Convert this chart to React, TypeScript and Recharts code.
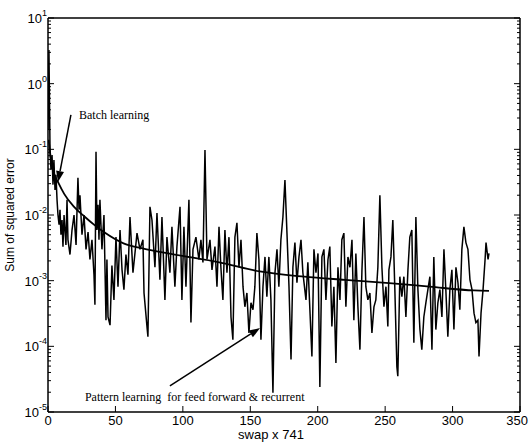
import { Line, LineChart, ReferenceDot, ReferenceLine, XAxis, YAxis } from "recharts";

// noisy curve: pattern learning (feed forward & recurrent)
const patternX = [
  0.0, 0.7, 1.5, 2.2, 3.0, 3.7, 4.4, 5.2, 5.9, 6.7, 7.4, 8.2, 8.9, 9.6, 10.4, 11.1, 11.9, 13.3, 14.1, 14.8,
  16.3, 17.8, 19.3, 20.8, 22.2, 23.0, 23.7, 25.2, 26.7, 28.2, 29.7, 31.1, 32.6, 34.1, 34.8, 35.6, 36.3, 37.1, 37.8, 38.5,
  40.0, 41.5, 43.0, 43.7, 44.5, 46.0, 47.4, 48.9, 50.4, 51.9, 53.4, 54.9, 56.3, 57.8, 59.3, 60.8, 63.0, 66.0, 68.2, 70.4,
  71.2, 73.4, 74.1, 75.6, 77.1, 79.3, 80.8, 83.0, 84.5, 86.7, 88.2, 90.4, 91.9, 94.1, 95.6, 97.9, 99.3, 100.8, 102.3, 104.5,
  106.0, 107.5, 109.7, 111.9, 113.4, 114.9, 116.4, 117.9, 120.1, 121.6, 123.8, 125.3, 126.8, 128.2, 129.7, 131.2, 132.7, 134.2, 135.7, 137.1,
  138.6, 140.1, 141.6, 143.1, 144.6, 146.0, 147.5, 149.0, 150.5, 152.0, 153.4, 154.9, 156.4, 157.9, 159.4, 160.9, 162.3, 163.8, 165.3, 166.8,
  168.3, 169.8, 171.2, 172.7, 174.2, 175.7, 177.2, 178.7, 180.2, 181.6, 183.1, 184.6, 186.1, 187.6, 189.0, 191.3, 192.7, 194.2, 195.7, 197.2,
  198.7, 200.2, 201.6, 203.1, 204.6, 206.1, 207.6, 209.0, 210.5, 212.0, 213.5, 215.0, 216.5, 217.9, 219.4, 220.9, 222.4, 223.9, 225.4, 226.8,
  228.3, 229.8, 231.3, 232.8, 234.3, 235.7, 237.2, 238.7, 240.2, 241.7, 243.1, 244.6, 246.1, 247.6, 249.1, 250.6, 252.0, 252.8, 254.3, 255.7,
  257.2, 258.7, 259.4, 260.9, 262.4, 263.9, 265.4, 266.9, 268.3, 269.8, 271.3, 272.8, 274.3, 275.8, 277.2, 278.7, 280.2, 281.7, 283.2, 284.7,
  286.1, 287.6, 289.1, 290.6, 292.1, 293.6, 295.0, 296.5, 298.0, 299.5, 301.0, 302.5, 304.0, 305.4, 306.9, 308.4, 309.9, 311.4, 312.9, 314.4,
  315.9, 317.3, 318.8, 319.6, 321.1, 322.6, 324.1, 324.8, 326.3, 327.0,
];
const patternErr = [
  0.198, 3.26, 0.098, 0.049, 0.082, 0.029, 0.069, 0.024, 0.041, 0.017, 0.01, 0.0071, 0.012, 0.005, 0.0084, 0.0033, 0.01, 0.0035, 0.017, 0.0042,
  0.0025, 0.0059, 0.01, 0.0035, 0.037, 0.012, 0.02, 0.005, 0.01, 0.003, 0.0055, 0.0021, 0.0042, 0.00123, 0.00043, 0.092, 0.0059, 0.0143, 0.0042, 0.017,
  0.003, 0.01, 0.00025, 0.0021, 0.00028, 0.00021, 0.0017, 0.00051, 0.0046, 0.00081, 0.0059, 0.00146, 0.00073, 0.0025, 0.00123, 0.0093, 0.00132, 0.0053, 0.003, 0.0042,
  0.00065, 0.0002, 0.00014, 0.0133, 0.0084, 0.0016, 0.0107, 0.00103, 0.0093, 0.00051, 0.0046, 0.00132, 0.0066, 0.00081, 0.0033, 0.0133, 0.00051, 0.0066, 0.00081, 0.017,
  0.00023, 0.003, 0.0046, 0.0021, 0.0042, 0.0019, 0.098, 0.0021, 0.0042, 0.00146, 0.0033, 0.00081, 0.0066, 0.0016, 0.00051, 0.0059, 0.00132, 0.0046, 0.00028, 0.000126,
  0.0046, 0.0076, 0.0016, 0.0042, 0.00081, 0.0004, 0.00065, 0.00016, 0.00046, 0.00036, 0.00081, 0.0053, 0.0021, 0.000126, 0.00081, 0.0023, 0.00057, 0.0023, 0.00051, 0.0000196,
  0.00132, 0.003, 0.00081, 0.0042, 0.0093, 0.034, 0.0053, 0.00081, 0.000063, 0.0016, 0.0038, 0.00093, 0.0023, 0.0042, 0.00132, 0.00051, 0.0019, 0.00036, 0.00007, 0.003,
  0.00132, 0.0026, 0.000024, 0.0023, 0.003, 0.00051, 0.0021, 0.0033, 0.0002, 0.00081, 0.000056, 0.0016, 0.00051, 0.0042, 0.0053, 0.0004, 0.0023, 0.0016, 0.0042, 0.00025,
  0.0026, 0.0004, 0.000089, 0.00146, 0.0093, 0.00081, 0.00051, 0.00065, 0.00016, 0.0004, 0.00051, 0.0016, 0.02, 0.0016, 0.0004, 0.00081, 0.0002, 0.00146, 0.0023, 0.0084,
  0.00073, 0.000049, 0.000035, 0.00115, 0.00057, 0.00115, 0.00028, 0.00146, 0.0046, 0.0059, 0.000113, 0.0093, 0.00073, 0.00018, 0.000089, 0.00028, 0.00046, 0.00073, 0.00115, 0.000089,
  0.0023, 0.00018, 0.00046, 0.00073, 0.00028, 0.003, 0.00073, 0.00014, 0.00073, 0.00146, 0.00018, 0.0016, 0.00093, 0.00036, 0.003, 0.0066, 0.0038, 0.003, 0.00103, 0.00073,
  0.00032, 0.00023, 0.00025, 0.00007, 0.00032, 0.00073, 0.0021, 0.0038, 0.0021, 0.0026,
];

// smooth curve: batch learning
const batchX = [0.5, 2, 4, 8, 12, 19, 27, 35, 42, 56, 70, 94, 127, 157, 190, 220, 253, 283, 316, 327];
const batchErr = [
  0.14, 0.075, 0.046, 0.03, 0.021, 0.0135, 0.0095, 0.0069, 0.0054, 0.0037, 0.0031, 0.0025, 0.0019, 0.00138, 0.00115,
  0.00103, 0.00092, 0.00081, 0.00071, 0.0007,
];

const xTicks = [0, 50, 100, 150, 200, 250, 300, 350];
const decades = [1e-5, 1e-4, 1e-3, 1e-2, 1e-1, 1, 10];

const logTicks: number[] = [];
decades.forEach((d, i) => {
  if (i === decades.length - 1) {
    logTicks.push(d);
    return;
  }
  for (let m = 1; m < 10; m++) logTicks.push(d * m);
});

const patternData = patternX.map((x, i) => ({ x, err: patternErr[i] }));
const batchData = batchX.map((x, i) => ({ x, err: batchErr[i] }));

const numFont = '"Liberation Sans", Arial, sans-serif';
const textFont = '"Liberation Serif", "Times New Roman", serif';

const isMajor = (v: number) => {
  const l = Math.log10(v);
  return Math.abs(l - Math.round(l)) < 1e-6;
};

const LeftTick = ({ x, y, payload }: any) => {
  const v = payload.value;
  const major = isMajor(v);
  const exp = Math.round(Math.log10(v));
  return (
    <g>
      <line x1={x} y1={y} x2={x + (major ? 6 : 3)} y2={y} stroke="#000" strokeWidth={1} />
      {major && (
        <text x={x - 1} y={y + 5} textAnchor="end" fontFamily={numFont} fontSize={13} fill="#000">
          <tspan>10</tspan>
          <tspan dy={-7} fontSize={9}>{exp}</tspan>
        </text>
      )}
    </g>
  );
};

const RightTick = ({ x, y, payload }: any) => {
  const major = isMajor(payload.value);
  return <line x1={x} y1={y} x2={x - (major ? 6 : 3)} y2={y} stroke="#000" strokeWidth={1} />;
};

const BottomTick = ({ x, y, payload }: any) => {
  const last = payload.value === xTicks[xTicks.length - 1];
  return (
    <g>
      <line x1={x} y1={y} x2={x} y2={y - 6} stroke="#000" strokeWidth={1} />
      <text
        x={last ? x + 8 : x}
        y={y + 13}
        textAnchor={last ? "end" : "middle"}
        fontFamily={numFont}
        fontSize={13}
        fill="#000"
      >
        {payload.value}
      </text>
    </g>
  );
};

const TopTick = ({ x, y }: any) => <line x1={x} y1={y} x2={x} y2={y + 6} stroke="#000" strokeWidth={1} />;

const Arrow = ({ x1, y1, x2, y2 }: any) => {
  const a = Math.atan2(y2 - y1, x2 - x1);
  const len = 11;
  const w = 4;
  const bx = x2 - len * Math.cos(a);
  const by = y2 - len * Math.sin(a);
  const px = -Math.sin(a) * w;
  const py = Math.cos(a) * w;
  return (
    <g>
      <line x1={x1} y1={y1} x2={bx} y2={by} stroke="#000" strokeWidth={1.5} />
      <polygon points={`${x2},${y2} ${bx + px},${by + py} ${bx - px},${by - py}`} fill="#000" />
    </g>
  );
};

const note = (txt: string) => ({ cx, cy }: any) => (
  <text x={cx} y={cy} fontFamily={textFont} fontSize={12} fill="#000" style={{ whiteSpace: "pre" }}>
    {txt}
  </text>
);

export default function App() {
  return (
    <div style={{ position: "absolute", left: 0, top: 0, width: 529, height: 444, background: "#fff" }}>
      <LineChart width={529} height={444} margin={{ top: 10, right: 0, bottom: 0, left: 8 }}>
        <XAxis
          xAxisId="x"
          dataKey="x"
          type="number"
          domain={[0, 350]}
          ticks={xTicks}
          interval={0}
          allowDataOverflow
          height={32}
          tickSize={0}
          tickMargin={0}
          tickLine={false}
          tick={<BottomTick />}
          axisLine={{ stroke: "#000", strokeWidth: 1.5 }}
          label={({ viewBox }: any) => (
            <text
              x={viewBox.x + viewBox.width / 2 - 13}
              y={viewBox.y + 27}
              textAnchor="middle"
              fontFamily={numFont}
              fontSize={13}
              fill="#000"
            >
              swap x 741
            </text>
          )}
        />
        <XAxis
          xAxisId="top"
          orientation="top"
          type="number"
          domain={[0, 350]}
          ticks={xTicks}
          interval={0}
          allowDataOverflow
          height={8}
          tickSize={0}
          tickMargin={0}
          tickLine={false}
          tick={<TopTick />}
          axisLine={{ stroke: "#000", strokeWidth: 1.5 }}
        />
        <YAxis
          yAxisId="y"
          scale="log"
          type="number"
          domain={[1e-5, 10]}
          ticks={logTicks}
          interval={0}
          allowDataOverflow
          width={40}
          tickSize={0}
          tickMargin={0}
          tickLine={false}
          tick={<LeftTick />}
          axisLine={{ stroke: "#000", strokeWidth: 1.5 }}
          label={({ viewBox }: any) => {
            const lx = viewBox.x + 2;
            const ly = viewBox.y + viewBox.height / 2;
            return (
              <text
                x={lx}
                y={ly}
                transform={`rotate(-90 ${lx} ${ly})`}
                textAnchor="middle"
                dominantBaseline="central"
                fontFamily={numFont}
                fontSize={12}
                fill="#000"
              >
                Sum of squared error
              </text>
            );
          }}
        />
        <YAxis
          yAxisId="right"
          orientation="right"
          scale="log"
          type="number"
          domain={[1e-5, 10]}
          ticks={logTicks}
          interval={0}
          allowDataOverflow
          width={9}
          tickSize={0}
          tickMargin={0}
          tickLine={false}
          tick={<RightTick />}
          axisLine={{ stroke: "#000", strokeWidth: 1.5 }}
        />
        <Line
          xAxisId="x"
          yAxisId="y"
          data={patternData}
          dataKey="err"
          type="linear"
          stroke="#000"
          strokeWidth={1.5}
          dot={false}
          isAnimationActive={false}
        />
        <Line
          xAxisId="x"
          yAxisId="y"
          data={batchData}
          dataKey="err"
          type="monotone"
          stroke="#000"
          strokeWidth={1.8}
          dot={false}
          isAnimationActive={false}
        />
        <ReferenceLine
          xAxisId="x"
          yAxisId="y"
          segment={[
            { x: 17, y: 0.334 },
            { x: 7.4, y: 0.0318 },
          ]}
          shape={<Arrow />}
        />
        <ReferenceLine
          xAxisId="x"
          yAxisId="y"
          segment={[
            { x: 90.4, y: 0.000025 },
            { x: 157.2, y: 0.00019 },
          ]}
          shape={<Arrow />}
        />
        <ReferenceDot xAxisId="x" yAxisId="y" x={23} y={0.29} r={0} shape={note("Batch learning")} />
        <ReferenceDot
          xAxisId="x"
          yAxisId="y"
          x={27.4}
          y={0.0000145}
          r={0}
          shape={note("Pattern learning  for feed forward & recurrent")}
        />
      </LineChart>
    </div>
  );
}
